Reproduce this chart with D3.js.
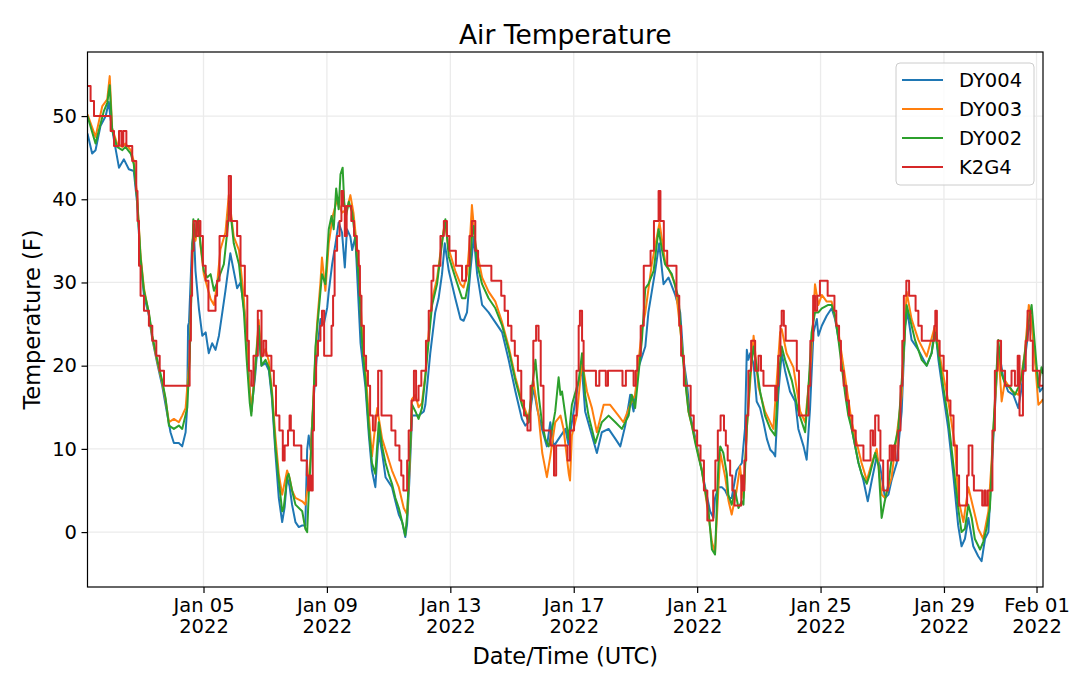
<!DOCTYPE html>
<html>
<head>
<meta charset="utf-8">
<script src="https://cdn.jsdelivr.net/npm/d3@7"></script>
<style>
body { margin: 0; background: #fff; }
text { font-family: "DejaVu Sans", sans-serif; fill: #000; }
</style>
</head>
<body>
<svg id="chart" width="1080" height="675"></svg>
<script>
// every point is [days since 2022-01-01 00:00 UTC, deg F]
var dy004 = [[0.24,47.9],[0.39,45.5],[0.50,45.9],[0.66,48.8],[0.83,50.0],[0.93,51.7],[0.99,49.6],[1.10,47.1],[1.26,43.8],[1.42,44.8],[1.58,43.6],[1.74,43.4],[1.85,39.5],[1.96,32.5],[2.07,28.5],[2.23,26.0],[2.34,23.2],[2.50,20.3],[2.66,17.6],[2.77,15.3],[2.93,12.0],[3.04,10.7],[3.20,10.7],[3.31,10.3],[3.42,12.0],[3.47,15.0],[3.50,24.8],[3.53,25.2],[3.63,34.7],[3.69,36.0],[3.74,31.4],[3.85,26.9],[3.96,23.6],[4.07,24.0],[4.17,21.5],[4.28,22.7],[4.39,21.9],[4.50,23.6],[4.61,26.4],[4.71,29.0],[4.87,33.5],[4.98,31.4],[5.09,29.3],[5.20,30.0],[5.36,25.6],[5.45,20.0],[5.55,14.5],[5.68,19.0],[5.79,24.0],[5.88,20.0],[6.01,20.3],[6.12,19.4],[6.22,16.0],[6.33,9.5],[6.44,4.1],[6.55,1.2],[6.63,3.0],[6.71,6.6],[6.79,5.5],[6.87,3.3],[6.98,1.2],[7.09,0.6],[7.20,0.8],[7.30,0.8],[7.36,9.9],[7.41,11.6],[7.47,9.9],[7.57,16.0],[7.68,21.5],[7.79,25.6],[7.90,25.0],[8.01,27.0],[8.06,28.9],[8.17,32.2],[8.28,34.7],[8.38,37.2],[8.49,36.0],[8.58,31.8],[8.65,36.4],[8.76,35.5],[8.82,33.9],[8.92,35.5],[9.09,22.7],[9.25,17.4],[9.36,11.6],[9.46,7.4],[9.57,5.4],[9.68,12.0],[9.79,9.5],[9.90,6.6],[10.11,5.4],[10.22,3.7],[10.33,2.1],[10.44,1.2],[10.54,-0.6],[10.60,1.0],[10.67,6.0],[10.76,14.0],[10.97,14.0],[11.14,14.5],[11.19,15.3],[11.35,21.5],[11.51,26.4],[11.62,28.1],[11.73,31.0],[11.82,34.7],[11.95,31.4],[12.16,28.1],[12.33,25.6],[12.43,25.4],[12.54,26.4],[12.65,31.4],[12.76,35.5],[12.87,31.0],[13.03,27.3],[13.24,26.4],[13.46,25.2],[13.68,24.0],[13.89,20.7],[14.11,16.9],[14.32,13.6],[14.43,12.8],[14.54,13.2],[14.70,17.4],[14.81,14.9],[14.97,12.4],[15.13,10.3],[15.24,13.2],[15.35,10.3],[15.51,11.2],[15.73,12.4],[15.83,10.5],[15.94,13.2],[16.16,18.2],[16.27,19.4],[16.37,14.5],[16.53,12.4],[16.75,9.5],[16.91,12.0],[17.13,12.4],[17.35,11.2],[17.51,10.3],[17.67,12.8],[17.83,16.5],[17.94,14.5],[18.10,19.8],[18.32,22.3],[18.42,26.4],[18.53,28.9],[18.64,31.4],[18.77,34.7],[18.91,29.8],[19.07,30.6],[19.29,28.5],[19.45,26.4],[19.56,20.7],[19.67,17.8],[19.77,14.0],[19.88,12.4],[20.04,9.5],[20.26,5.4],[20.42,2.5],[20.53,1.7],[20.58,4.1],[20.69,5.4],[20.80,5.4],[20.91,5.0],[21.02,4.1],[21.12,4.1],[21.28,7.4],[21.45,8.3],[21.55,12.4],[21.61,21.9],[21.66,20.7],[21.72,21.5],[21.83,20.2],[21.93,15.7],[22.04,14.9],[22.15,13.2],[22.26,11.2],[22.37,9.9],[22.47,9.5],[22.53,9.1],[22.63,16.5],[22.74,21.5],[22.85,19.4],[23.01,16.9],[23.18,15.7],[23.28,12.4],[23.45,10.3],[23.55,8.7],[23.66,14.9],[23.77,24.0],[23.88,25.6],[23.93,23.6],[24.04,24.8],[24.20,26.0],[24.36,26.9],[24.47,25.6],[24.63,22.3],[24.80,17.8],[25.01,12.4],[25.23,8.3],[25.39,6.2],[25.53,3.7],[25.66,6.2],[25.82,9.1],[25.93,7.9],[26.09,4.1],[26.20,4.5],[26.30,6.2],[26.47,8.3],[26.63,14.5],[26.74,24.8],[26.82,26.4],[26.95,23.1],[27.17,21.9],[27.44,20.0],[27.60,21.5],[27.71,24.8],[27.82,20.7],[27.98,16.5],[28.14,12.4],[28.30,7.0],[28.46,0.8],[28.57,-1.7],[28.68,-0.8],[28.79,1.7],[28.95,-1.7],[29.11,-2.9],[29.22,-3.5],[29.33,-0.8],[29.44,0.0],[29.60,11.2],[29.76,22.3],[29.92,18.6],[30.08,16.9],[30.25,16.5],[30.41,14.9],[30.52,17.4],[30.62,20.7],[30.73,24.0],[30.84,25.6],[30.95,20.7],[31.11,16.9],[31.21,17.4]];

var dy003 = [[0.24,50.2],[0.50,47.5],[0.72,51.2],[0.88,52.0],[0.96,54.8],[1.04,48.5],[1.20,46.7],[1.37,46.3],[1.47,46.7],[1.64,45.9],[1.74,44.6],[1.85,40.3],[1.96,33.3],[2.07,29.3],[2.23,26.2],[2.34,23.4],[2.50,20.5],[2.66,18.0],[2.77,15.9],[2.88,13.2],[3.04,13.6],[3.20,13.2],[3.31,14.0],[3.42,14.9],[3.55,21.0],[3.61,29.5],[3.67,37.0],[3.74,35.0],[3.83,37.2],[3.90,34.5],[4.01,31.0],[4.12,29.5],[4.23,28.0],[4.34,27.3],[4.44,29.8],[4.55,34.0],[4.71,36.0],[4.82,40.5],[4.98,35.5],[5.15,33.9],[5.31,28.0],[5.42,21.0],[5.55,14.5],[5.68,20.0],[5.79,25.5],[5.88,21.0],[6.01,22.0],[6.12,20.5],[6.22,17.0],[6.33,11.5],[6.44,7.0],[6.55,4.5],[6.71,7.4],[6.79,6.5],[6.87,5.0],[6.98,4.1],[7.20,3.7],[7.30,3.3],[7.39,5.8],[7.47,9.0],[7.57,17.0],[7.68,25.0],[7.79,30.0],[7.84,33.0],[7.95,29.0],[8.06,34.7],[8.19,38.0],[8.33,40.0],[8.49,38.4],[8.65,38.8],[8.76,40.5],[8.86,38.4],[9.03,32.2],[9.14,24.0],[9.25,19.4],[9.36,14.0],[9.46,9.1],[9.63,14.9],[9.79,11.2],[10.11,7.4],[10.33,5.4],[10.49,2.9],[10.60,2.1],[10.67,7.0],[10.76,16.0],[10.87,16.5],[10.97,15.0],[11.08,15.5],[11.19,19.0],[11.30,24.0],[11.41,28.0],[11.57,30.5],[11.73,35.0],[11.82,37.2],[11.95,34.0],[12.16,31.4],[12.33,29.8],[12.43,29.4],[12.54,31.0],[12.65,36.0],[12.70,39.3],[12.81,34.7],[13.03,30.6],[13.24,28.9],[13.46,27.7],[13.68,25.2],[13.89,22.3],[14.11,18.6],[14.32,15.7],[14.54,13.6],[14.69,18.2],[14.86,14.0],[14.98,9.5],[15.13,6.6],[15.24,9.1],[15.40,13.2],[15.57,14.0],[15.67,12.4],[15.84,7.0],[15.88,6.2],[15.94,11.6],[16.10,14.0],[16.27,20.5],[16.43,16.9],[16.59,14.9],[16.75,12.0],[16.97,15.3],[17.18,15.3],[17.45,14.0],[17.61,13.2],[17.83,15.3],[17.99,16.5],[18.21,24.4],[18.32,26.4],[18.53,32.2],[18.78,37.2],[18.96,32.6],[19.29,29.8],[19.50,22.7],[19.72,14.5],[19.94,11.0],[20.15,7.5],[20.37,2.0],[20.48,-1.2],[20.58,-2.5],[20.75,9.5],[20.91,6.6],[21.02,3.7],[21.12,2.1],[21.28,5.0],[21.39,7.9],[21.50,4.1],[21.61,12.4],[21.83,23.6],[21.99,17.4],[22.20,14.5],[22.47,12.4],[22.69,24.0],[22.74,24.4],[22.90,21.5],[23.12,19.8],[23.34,14.5],[23.50,13.2],[23.69,20.7],[23.82,29.8],[23.93,27.3],[24.04,28.5],[24.20,27.7],[24.36,27.7],[24.58,24.0],[25.01,13.2],[25.33,8.3],[25.50,6.2],[25.66,8.3],[25.82,10.0],[25.98,4.5],[26.09,4.1],[26.30,6.5],[26.63,16.5],[26.79,28.9],[26.95,25.6],[27.17,23.1],[27.44,21.1],[27.71,24.8],[27.93,19.8],[28.14,15.7],[28.36,10.3],[28.46,4.1],[28.63,1.2],[28.79,5.4],[28.95,2.9],[29.11,0.4],[29.27,-0.8],[29.44,2.5],[29.54,8.3],[29.76,22.0],[29.87,15.7],[29.98,18.2],[30.19,17.0],[30.41,16.5],[30.62,21.5],[30.75,27.3],[30.84,25.6],[30.95,20.7],[31.06,15.3],[31.16,15.7],[31.21,16.0]];

var dy002 = [[0.24,50.0],[0.50,46.7],[0.77,50.6],[0.88,51.6],[0.96,53.7],[1.04,48.3],[1.20,46.3],[1.37,45.9],[1.47,46.3],[1.64,45.5],[1.74,44.2],[1.85,40.0],[1.96,33.0],[2.07,29.0],[2.23,26.4],[2.34,23.6],[2.50,20.7],[2.66,18.2],[2.77,16.1],[2.88,12.8],[3.04,12.4],[3.20,12.8],[3.31,12.4],[3.47,14.9],[3.55,20.7],[3.61,29.0],[3.67,37.6],[3.74,35.5],[3.83,37.6],[3.90,34.7],[4.01,31.4],[4.12,30.6],[4.23,31.0],[4.34,29.0],[4.50,30.6],[4.66,32.2],[4.80,37.2],[4.84,39.7],[4.98,34.7],[5.15,32.2],[5.31,26.4],[5.40,20.7],[5.50,15.5],[5.55,14.0],[5.68,19.8],[5.79,24.8],[5.88,20.0],[6.01,20.7],[6.12,19.8],[6.22,16.5],[6.33,10.3],[6.44,6.2],[6.55,2.5],[6.60,2.9],[6.71,6.6],[6.76,7.0],[6.87,5.0],[6.98,3.3],[7.20,2.5],[7.30,0.4],[7.36,0.0],[7.41,4.5],[7.47,8.3],[7.57,16.5],[7.63,22.3],[7.71,25.6],[7.79,28.9],[7.84,31.0],[7.95,29.8],[8.06,36.4],[8.15,38.0],[8.22,36.4],[8.30,41.3],[8.38,38.8],[8.44,43.0],[8.51,43.8],[8.56,39.7],[8.62,38.0],[8.71,39.7],[8.82,38.4],[8.92,35.1],[9.03,30.6],[9.14,22.7],[9.25,18.2],[9.36,12.4],[9.46,8.3],[9.57,7.0],[9.68,13.2],[9.79,10.3],[9.90,8.3],[10.00,7.0],[10.11,5.8],[10.22,4.1],[10.33,2.9],[10.44,1.2],[10.54,-0.4],[10.60,2.0],[10.65,6.2],[10.76,15.3],[10.87,14.5],[10.97,13.6],[11.08,14.9],[11.19,18.6],[11.30,23.1],[11.41,27.3],[11.57,29.8],[11.73,34.7],[11.84,37.6],[11.95,33.1],[12.16,30.6],[12.38,28.1],[12.49,28.1],[12.60,30.2],[12.70,35.5],[12.76,36.8],[12.87,32.2],[13.03,29.8],[13.24,28.1],[13.46,26.9],[13.68,24.8],[13.89,21.9],[14.11,18.2],[14.32,15.3],[14.54,13.2],[14.65,17.4],[14.76,20.7],[14.86,16.5],[14.97,13.2],[15.08,11.2],[15.19,10.3],[15.30,12.4],[15.40,14.5],[15.51,18.6],[15.57,16.5],[15.62,16.9],[15.73,14.0],[15.83,11.2],[15.94,15.3],[16.16,18.2],[16.27,21.5],[16.37,16.5],[16.48,14.0],[16.70,10.7],[16.91,13.2],[17.13,14.0],[17.35,13.2],[17.56,12.4],[17.78,14.0],[17.88,16.5],[17.99,14.9],[18.10,19.0],[18.21,23.1],[18.32,29.3],[18.42,29.8],[18.59,31.4],[18.75,36.4],[18.86,33.9],[18.96,32.2],[19.18,31.0],[19.40,28.1],[19.50,22.3],[19.61,18.2],[19.72,14.5],[19.83,12.8],[19.94,10.7],[20.04,9.1],[20.15,7.4],[20.26,5.0],[20.37,2.5],[20.48,-2.1],[20.58,-2.7],[20.69,8.3],[20.75,10.3],[20.85,9.5],[20.96,7.0],[21.01,4.5],[21.12,3.3],[21.23,5.0],[21.34,2.9],[21.45,3.7],[21.50,3.3],[21.61,12.4],[21.72,19.0],[21.83,22.3],[21.93,19.8],[22.04,16.9],[22.20,14.0],[22.37,12.4],[22.53,11.6],[22.63,18.2],[22.74,22.3],[22.85,20.7],[23.07,18.2],[23.28,14.5],[23.50,12.0],[23.61,17.4],[23.71,24.0],[23.82,26.4],[23.93,26.4],[24.04,26.9],[24.25,27.3],[24.36,27.3],[24.47,26.0],[24.58,23.1],[24.69,19.8],[24.80,16.5],[24.90,14.0],[25.01,12.4],[25.23,8.3],[25.33,7.0],[25.50,5.8],[25.60,7.0],[25.77,9.5],[25.88,7.9],[25.98,1.7],[26.07,3.5],[26.20,5.8],[26.30,8.7],[26.52,12.4],[26.68,20.7],[26.79,27.3],[26.90,25.6],[27.06,23.1],[27.28,20.7],[27.44,20.0],[27.60,21.5],[27.71,24.0],[27.82,21.5],[27.98,17.4],[28.14,13.6],[28.30,8.3],[28.46,2.9],[28.57,0.0],[28.68,0.4],[28.79,3.3],[28.90,1.7],[29.00,-0.8],[29.17,-2.1],[29.27,-1.2],[29.38,0.4],[29.49,2.9],[29.60,12.4],[29.76,23.1],[29.87,19.0],[29.98,17.8],[30.14,17.4],[30.30,16.5],[30.41,17.4],[30.52,18.6],[30.62,21.5],[30.73,24.8],[30.84,27.3],[30.95,22.3],[31.06,17.4],[31.16,19.8],[31.21,19.0]];

// K2G4 is an hourly station report, so it holds each value until the next one
var k2g4 = [[0.24,53.6],[0.34,51.8],[0.45,50.0],[0.99,48.2],[1.10,46.4],[1.26,48.2],[1.34,46.4],[1.40,48.2],[1.50,46.4],[1.69,44.6],[1.82,41.0],[1.86,37.4],[1.91,32.0],[1.96,28.4],[2.07,26.6],[2.23,24.8],[2.34,23.0],[2.47,21.2],[2.58,19.4],[2.72,17.6],[3.55,23.0],[3.59,28.4],[3.63,33.8],[3.68,37.4],[3.76,35.6],[3.83,37.4],[3.90,35.6],[3.98,32.0],[4.07,30.2],[4.16,26.6],[4.39,28.4],[4.44,30.2],[4.52,35.6],[4.77,37.4],[4.82,42.8],[4.89,37.4],[5.09,35.6],[5.20,32.0],[5.34,28.4],[5.42,23.0],[5.47,19.4],[5.55,17.6],[5.62,21.2],[5.76,26.6],[5.88,21.2],[5.95,23.0],[6.03,21.2],[6.20,19.4],[6.28,17.6],[6.35,14.0],[6.46,12.2],[6.57,8.6],[6.63,10.4],[6.74,12.2],[6.79,14.0],[6.83,12.2],[6.93,10.4],[7.17,8.6],[7.35,6.8],[7.39,5.0],[7.43,6.8],[7.48,5.0],[7.54,12.2],[7.58,17.6],[7.65,21.2],[7.71,23.0],[7.79,24.8],[7.84,26.6],[7.91,21.2],[8.15,24.8],[8.20,28.4],[8.25,33.8],[8.33,35.6],[8.41,37.4],[8.47,41.0],[8.53,39.2],[8.58,35.6],[8.64,39.2],[8.79,37.4],[8.88,35.6],[8.97,33.8],[9.03,32.0],[9.07,28.4],[9.12,24.8],[9.20,21.2],[9.27,19.4],[9.33,17.6],[9.40,14.0],[9.49,12.2],[9.57,14.0],[9.66,19.4],[9.77,14.0],[10.09,12.2],[10.22,10.4],[10.35,8.6],[10.41,6.8],[10.48,5.0],[10.60,8.6],[10.65,12.2],[10.74,15.8],[10.82,19.4],[10.89,15.8],[10.97,17.6],[11.06,19.4],[11.21,23.0],[11.30,26.6],[11.39,30.2],[11.45,32.0],[11.68,35.6],[11.79,37.4],[11.89,35.6],[11.97,33.8],[12.18,32.0],[12.38,30.2],[12.51,32.0],[12.62,35.6],[12.70,37.4],[12.81,33.8],[12.90,32.0],[13.33,30.2],[13.65,28.4],[13.76,26.6],[13.87,24.8],[13.98,23.0],[14.09,21.2],[14.19,19.4],[14.30,15.8],[14.39,14.0],[14.50,12.2],[14.60,17.6],[14.69,23.0],[14.78,24.8],[14.86,23.0],[14.93,17.6],[15.02,12.2],[15.25,10.4],[15.36,6.8],[15.43,10.4],[15.80,8.6],[15.88,12.2],[16.01,14.0],[16.09,19.4],[16.16,24.8],[16.20,26.6],[16.27,23.0],[16.32,19.4],[16.72,17.6],[16.83,19.4],[17.04,17.6],[17.11,19.4],[17.58,17.6],[17.69,19.4],[17.94,17.6],[18.01,19.4],[18.06,21.2],[18.17,24.8],[18.27,32.0],[18.49,33.8],[18.60,37.4],[18.75,41.0],[18.81,37.4],[18.92,33.8],[19.03,32.0],[19.33,28.4],[19.42,24.8],[19.48,21.2],[19.57,17.6],[19.79,14.0],[19.89,12.2],[20.00,10.4],[20.11,8.6],[20.22,5.0],[20.33,1.4],[20.52,5.0],[20.59,8.6],[20.67,12.2],[20.76,14.0],[20.87,12.2],[20.93,10.4],[20.99,8.6],[21.07,6.8],[21.14,5.0],[21.21,3.2],[21.43,6.8],[21.48,5.0],[21.53,8.6],[21.59,14.0],[21.66,19.4],[21.75,23.0],[21.88,19.4],[21.99,21.2],[22.07,19.4],[22.15,17.6],[22.53,15.8],[22.58,17.6],[22.63,21.2],[22.70,24.8],[22.74,26.6],[22.81,24.8],[22.87,23.0],[23.23,19.4],[23.30,14.0],[23.61,17.6],[23.67,23.0],[23.76,28.4],[23.82,26.6],[23.89,28.4],[23.98,30.2],[24.23,28.4],[24.45,26.6],[24.51,24.8],[24.60,23.0],[24.66,19.4],[24.75,17.6],[24.84,15.8],[24.92,14.0],[25.03,12.2],[25.14,10.4],[25.39,8.6],[25.62,12.2],[25.70,10.4],[25.77,14.0],[25.88,12.2],[25.94,8.6],[26.03,5.0],[26.18,8.6],[26.24,10.4],[26.31,8.6],[26.36,10.4],[26.43,8.6],[26.52,12.2],[26.59,17.6],[26.65,23.0],[26.70,28.4],[26.78,30.2],[26.87,28.4],[27.08,26.6],[27.17,24.8],[27.28,23.0],[27.69,24.8],[27.72,26.6],[27.77,23.0],[27.86,21.2],[27.99,19.4],[28.10,15.8],[28.21,14.0],[28.31,10.4],[28.42,6.8],[28.49,3.2],[28.75,6.8],[28.80,10.4],[28.92,6.8],[28.97,5.0],[29.24,3.2],[29.31,5.0],[29.35,3.2],[29.42,5.0],[29.57,12.2],[29.65,19.4],[29.74,23.0],[29.85,19.4],[29.98,17.6],[30.19,19.4],[30.30,17.6],[30.39,21.2],[30.45,14.0],[30.56,19.4],[30.65,23.0],[30.71,26.6],[30.80,23.0],[30.88,19.4],[31.10,17.6],[31.21,17.6]];

var seriesNames = ['DY004', 'DY003', 'DY002', 'K2G4'];
var seriesColors = ['#1f77b4', '#ff7f0e', '#2ca02c', '#d62728'];
var yTicks = [0, 10, 20, 30, 40, 50];
var xTickDates = ['2022-01-05', '2022-01-09', '2022-01-13', '2022-01-17', '2022-01-21', '2022-01-25', '2022-01-29', '2022-02-01'];

var dayMs = 86400000;
var t0 = Date.UTC(2022, 0, 1);
function toDate(day){ return new Date(t0 + day * dayMs); }

var series = [dy004, dy003, dy002, k2g4].map(function(pts, i){
  return { name: seriesNames[i],
           color: seriesColors[i],
           step: seriesNames[i] == 'K2G4',
           values: pts.map(function(p){ return { date: toDate(p[0]), temp: p[1] }; }) };
});

var plot = { left: 87.5, right: 1043, top: 52, bottom: 587 };

var allDates = [];
series.forEach(function(s){ s.values.forEach(function(v){ allDates.push(v.date) }) });

var x = d3.scaleUtc()
          .domain(d3.extent(allDates))
          .range([plot.left, plot.right]);
var y = d3.scaleLinear()
          .domain([-6.6, 57.7])
          .range([plot.bottom, plot.top]);

var svg = d3.select('#chart');
svg.append('rect').attr('width', 1080).attr('height', 675).attr('fill', '#fff');

svg.append('defs').append('clipPath').attr('id', 'clip')
   .append('rect')
   .attr('x', plot.left).attr('y', plot.top)
   .attr('width', plot.right - plot.left)
   .attr('height', plot.bottom - plot.top);

var tickDates = xTickDates.map(function(s){ return new Date(s + 'T00:00:00Z') });

// grid
var grid = svg.append('g').attr('class', 'grid');
grid.selectAll('line.v').data(tickDates).enter().append('line')
    .attr('x1', function(d){ return x(d) }).attr('x2', function(d){ return x(d) })
    .attr('y1', plot.top).attr('y2', plot.bottom)
    .attr('stroke', '#ebebeb').attr('stroke-width', 1.3);
grid.selectAll('line.h').data(yTicks).enter().append('line')
    .attr('x1', plot.left).attr('x2', plot.right)
    .attr('y1', function(d){ return y(d) }).attr('y2', function(d){ return y(d) })
    .attr('stroke', '#ebebeb').attr('stroke-width', 1.3);

// lines
var lineGroup = svg.append('g').attr('clip-path', 'url(#clip)');
series.forEach(function(s){
  var line = d3.line()
               .x(function(d){ return x(d.date) })
               .y(function(d){ return y(d.temp) })
               .curve(s.step ? d3.curveStepAfter : d3.curveLinear);
  lineGroup.append('path')
           .datum(s.values)
           .attr('d', line)
           .attr('fill', 'none')
           .attr('stroke', s.color)
           .attr('stroke-width', 2)
           .attr('stroke-linejoin', 'round');
});

// axes
var xAxis = svg.append('g')
   .attr('transform', 'translate(0,' + plot.bottom + ')')
   .call(d3.axisBottom(x).tickValues(tickDates).tickSize(6).tickFormat(''));
xAxis.select('.domain').remove();
xAxis.selectAll('.tick line').attr('stroke', '#000').attr('stroke-width', 1.2);
xAxis.selectAll('.tick').each(function(d){
  var t = d3.select(this).append('text')
            .attr('y', 24.5)
            .attr('text-anchor', 'middle')
            .style('font-size', '19.5px');
  t.append('tspan').attr('x', 0).text(d3.utcFormat('%b %d')(d));
  t.append('tspan').attr('x', 0).attr('dy', 21.5).text(d3.utcFormat('%Y')(d));
});

var yAxis = svg.append('g')
   .attr('transform', 'translate(' + plot.left + ',0)')
   .call(d3.axisLeft(y).tickValues(yTicks).tickSize(6).tickPadding(4.5));
yAxis.select('.domain').remove();
yAxis.selectAll('.tick line').attr('stroke', '#000').attr('stroke-width', 1.2);
yAxis.selectAll('.tick text')
     .attr('fill', '#000')
     .style('font-size', '19.5px')
     .style('font-family', '"DejaVu Sans", sans-serif');

// frame
svg.append('rect')
   .attr('x', plot.left).attr('y', plot.top)
   .attr('width', plot.right - plot.left)
   .attr('height', plot.bottom - plot.top)
   .attr('fill', 'none').attr('stroke', '#000').attr('stroke-width', 1.2);

// labels
svg.append('text')
   .attr('x', (plot.left + plot.right) / 2).attr('y', 43.5)
   .attr('text-anchor', 'middle')
   .style('font-size', '26.5px')
   .text('Air Temperature');
svg.append('text')
   .attr('x', (plot.left + plot.right) / 2).attr('y', 664)
   .attr('text-anchor', 'middle')
   .style('font-size', '22.5px')
   .text('Date/Time (UTC)');
svg.append('text')
   .attr('transform', 'translate(40,' + (plot.top + plot.bottom) / 2 + ') rotate(-90)')
   .attr('text-anchor', 'middle')
   .style('font-size', '22.5px')
   .text('Temperature (F)');

// legend
var legend = svg.append('g').attr('transform', 'translate(896,63)');
legend.append('rect')
      .attr('width', 138).attr('height', 122).attr('rx', 4)
      .attr('fill', '#fff').attr('fill-opacity', 0.8)
      .attr('stroke', '#cccccc').attr('stroke-width', 1);
var items = legend.selectAll('g.item').data(series).enter().append('g')
      .attr('class', 'item')
      .attr('transform', function(d, i){ return 'translate(0,' + (17 + i * 29) + ')' });
items.append('line')
     .attr('x1', 6).attr('x2', 47)
     .attr('stroke', function(d){ return d.color })
     .attr('stroke-width', 2);
items.append('text')
     .attr('x', 63).attr('dy', '0.35em')
     .style('font-size', '19.5px')
     .text(function(d){ return d.name });
</script>
</body>
</html>
